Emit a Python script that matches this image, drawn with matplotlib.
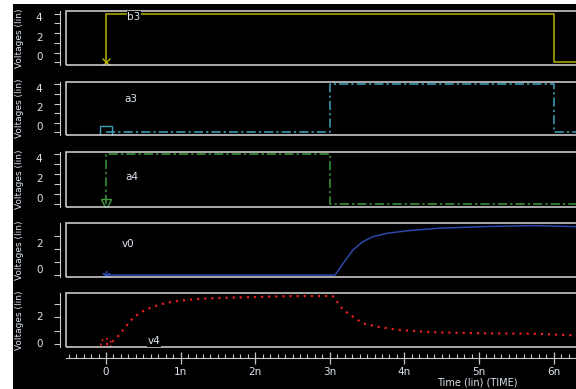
import matplotlib
matplotlib.use("Agg")
import matplotlib.pyplot as plt
from matplotlib.patches import Rectangle
from matplotlib.ticker import FixedLocator, MultipleLocator

# ---------------- data ----------------
b3_t = [0.0, 0.0, 6.01, 6.01, 6.7]
b3_v = [0.0, 5.0, 5.0, 0.0, 0.0]

a3_t = [0.0, 3.0, 3.0, 6.01, 6.01, 6.7]
a3_v = [0.0, 0.0, 5.0, 5.0, 0.0, 0.0]

a4_t = [0.0, 0.0, 3.0, 3.0, 6.7]
a4_v = [0.0, 5.0, 5.0, 0.0, 0.0]

v0_t = [0.0, 1.0, 2.0, 3.07, 3.18, 3.31, 3.44, 3.58, 3.76, 4.03, 4.47, 5.05, 5.72, 6.29, 6.7]
v0_v = [0.0, 0.0, 0.0, 0.0, 0.9, 1.92, 2.56, 2.95, 3.2, 3.4, 3.6, 3.72, 3.8, 3.72, 3.72]

v4_t = [0.0, 0.05, 0.14, 0.23, 0.30, 0.37, 0.46, 0.54, 0.68, 0.81, 0.99, 1.23, 1.5, 2.0, 2.5,
        3.04, 3.18, 3.31, 3.44, 3.67, 3.94, 4.38, 5.05, 5.72, 6.29, 6.7]
v4_v = [0.0, 0.0, 0.43, 1.05, 1.56, 2.0, 2.35, 2.6, 2.88, 3.1, 3.26, 3.38, 3.46, 3.53, 3.6,
        3.6, 2.56, 2.05, 1.56, 1.26, 1.05, 0.88, 0.8, 0.77, 0.65, 0.6]

x_major = [0, 1, 2, 3, 4, 5, 6]
x_labels = ["0", "1n", "2n", "3n", "4n", "5n", "6n"]

names = ["b3", "a3", "a4", "v0", "v4"]
name_pos = [(0.375, 4.69), (0.335, 3.47), (0.35, 2.73), (0.295, 2.4), (0.64, 0.23)]

# ---------------- layout ----------------
W, H = 576, 389
fig = plt.figure(figsize=(W / 100, H / 100), dpi=100)
fig.patch.set_facecolor("white")
fig.patches.append(Rectangle((13 / W, 0), 1, 1 - 4 / H, transform=fig.transFigure,
                             facecolor="black", edgecolor="none", zorder=-10))

def fx(px):
    return px / W

def fy(py):
    return 1 - py / H

LEFT, RIGHT = 66, 600
T0, PPN = 106, 74.6
xlim = ((LEFT - T0) / PPN, (RIGHT - T0) / PPN)

panels = [(11, 65), (81.7, 135), (151.7, 206.7), (223, 277), (293.3, 347.3)]
ylims = [(-0.28, 5.28), (-0.28, 5.28), (-0.26, 5.26), (-0.15, 4.0), (-0.25, 3.81)]
yticks_major = [[0, 2, 4], [0, 2, 4], [0, 2, 4], [0, 2], [0, 2]]
yticks_minor = [[1, 3, 5], [1, 3, 5], [1, 3, 5], [1, 3], [1, 3]]
label_va = ["bottom", "bottom", "bottom", "bottom", "center"]

fc = "#c8c8c8"
txtc = "#dde4ee"

yellow = "#b8b000"
cyan = "#3ea4bc"
green = "#3c9c3c"
blue = "#2c48a8"
red = "#e62020"

axes = []
for i, (top, bot) in enumerate(panels):
    ax = fig.add_axes([fx(LEFT), fy(bot), fx(RIGHT) - fx(LEFT), (bot - top) / H])
    ax.set_facecolor("black")
    ax.patch.set_alpha(0)
    for s in ["top", "right", "bottom"]:
        ax.spines[s].set_visible(False)
    ax.spines["left"].set_position(("outward", 4))
    ax.spines["left"].set_color(fc)
    ax.add_patch(Rectangle((0, 0), 1, 1, transform=ax.transAxes, fill=False,
                           edgecolor=fc, lw=1.2, clip_on=False, zorder=5))
    ax.set_xlim(*xlim)
    ax.set_ylim(*ylims[i])
    ax.set_xticks([])
    ax.yaxis.set_major_locator(FixedLocator(yticks_major[i]))
    ax.yaxis.set_minor_locator(FixedLocator(yticks_minor[i]))
    ax.tick_params(axis="y", which="both", direction="out", length=4, width=0.8,
                   color=fc, labelcolor=txtc, labelsize=7.5, pad=9)
    ax.set_yticklabels([str(v) for v in yticks_major[i]])
    for lab in ax.get_yticklabels():
        lab.set_va(label_va[i])
    fig.text(fx(20), fy((top + bot) / 2), "Voltages (lin)", rotation=90,
             ha="center", va="center", color=txtc, fontsize=6.5)
    axes.append(ax)

# ---------------- traces ----------------
axes[0].plot(b3_t, b3_v, color=yellow, lw=1.1)
axes[0].plot([0], [0], marker="x", color=yellow, ms=6, mew=1)

axes[1].plot(a3_t, a3_v, color=cyan, lw=1.1, ls=(0, (6, 2, 1.5, 2)))
axes[1].plot([0], [0], marker="s", ms=8.5, mfc="none", mec=cyan, mew=1, ls="none")

axes[2].plot(a4_t, a4_v, color=green, lw=1.1, ls=(0, (6, 2, 1.5, 2)))
axes[2].plot([0], [0], marker="v", ms=7, mfc="none", mec=green, mew=1, ls="none")

axes[3].plot(v0_t, v0_v, color=blue, lw=1.1)
axes[3].plot([0], [0], marker=(6, 2, 0), ms=6, color=blue, mew=1, ls="none")

axes[4].plot(v4_t, v4_v, color=red, lw=1.6, ls=(0, (1, 2.2)))
axes[4].scatter([0], [0], s=55, facecolors="none", edgecolors=red, linestyles=":", lw=1.3)

for ax, nm, (tx, ty) in zip(axes, names, name_pos):
    ax.text(tx, ty, nm, color=txtc, fontsize=7.5, ha="center", va="center", zorder=6,
            bbox=dict(facecolor="black", edgecolor="none", pad=0.6))

# ---------------- time axis ----------------
axx = fig.add_axes([fx(LEFT), fy(357.7), fx(RIGHT) - fx(LEFT), 0.0001])
axx.patch.set_alpha(0)
for s in ["top", "right", "left"]:
    axx.spines[s].set_visible(False)
axx.spines["bottom"].set_color(fc)
axx.set_yticks([])
axx.set_xlim(*xlim)
axx.xaxis.set_major_locator(FixedLocator(x_major))
axx.xaxis.set_minor_locator(MultipleLocator(0.1))
axx.set_xticklabels(x_labels)
axx.tick_params(axis="x", which="major", direction="inout", length=9, width=0.9,
                color=fc, labelcolor=txtc, labelsize=7.5, pad=2)
axx.tick_params(axis="x", which="minor", direction="in", length=3, width=0.8, color=fc)

fig.text(fx(477), fy(382.7), "Time (lin) (TIME)", ha="center", va="center",
         color=txtc, fontsize=7)

fig.savefig("out.png", dpi=100, facecolor=fig.get_facecolor())
